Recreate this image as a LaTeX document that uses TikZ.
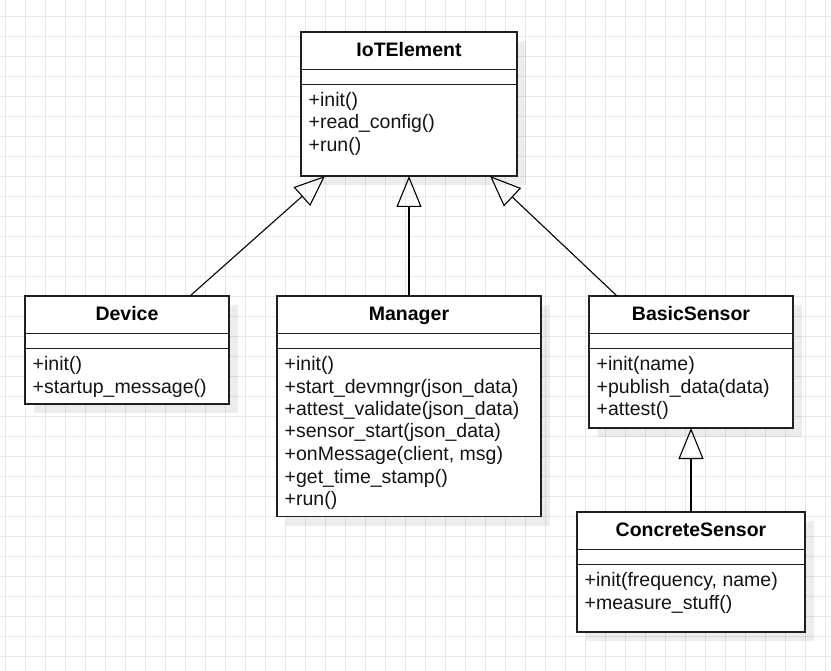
\documentclass[tikz,border=0pt]{standalone}
\usepackage{fontspec}
\setmainfont{Liberation Sans}
\usetikzlibrary{arrows.meta,calc}

\tikzset{
  classframe/.style={draw=black!88, line width=1.3pt, fill=white, inner sep=0pt, outer sep=0pt, anchor=north west},
  classshadow/.style={fill=black, opacity=0.07},
  divider/.style={draw=black!88, line width=1.3pt},
  classtitle/.style={font=\fontsize{19.5}{22}\selectfont\bfseries, text=black, inner sep=0pt, anchor=base},
  member/.style={font=\fontsize{19.5}{22}\selectfont, text=black!92, inner sep=0pt, anchor=base west},
  inherit/.style={draw=black, line width=1.1pt, -{Triangle[open, length=31pt, width=25pt]}},
  gridline/.style={draw=black!9, line width=0.7pt},
}

% UML class box: name, left, top, right, bottom, title, member list
\newcommand\umlclass[7]{%
  \fill[classshadow] (#2+9,#3+9) rectangle (#4+9,#5+9);
  \node[classframe, minimum width={#4pt-#2pt}, minimum height={#5pt-#3pt}] (#1) at (#2,#3) {};
  \draw[divider] ($(#1.north west)+(0,37.5)$) -- ($(#1.north east)+(0,37.5)$);
  \draw[divider] ($(#1.north west)+(0,52.5)$) -- ($(#1.north east)+(0,52.5)$);
  \node[classtitle] (#1-title) at ($(#1.north)+(0,24.5)$) {#6};
  \foreach \m [count=\i] in {#7}
    \node[member] (#1-m\i) at ($(#1.north west)+(7.5,{52.5+22+(\i-1)*22.5})$) {\m};
}

\begin{document}
\begin{tikzpicture}[x=1pt, y=-1pt]
  \useasboundingbox (0,0) rectangle (831,671);
  \fill[white] (0,0) rectangle (831,671);

  % background grid
  \foreach \x in {5,25,...,825} \draw[gridline] (\x,0) -- (\x,671);
  \foreach \y in {16,36,...,656} \draw[gridline] (0,\y) -- (831,\y);

  % classes
  \umlclass{iot}{301}{32}{517}{176}{IoTElement}{+init(), +read\_config(), +run()}
  \umlclass{device}{25}{296}{229}{404}{Device}{+init(), +startup\_message()}
  \umlclass{manager}{277}{296}{541}{516.5}{Manager}{+init(), +start\_devmngr(json\_data), +attest\_validate(json\_data), +sensor\_start(json\_data), {+onMessage(client, msg)}, +get\_time\_stamp(), +run()}
  \umlclass{basic}{589}{296}{793}{428}{BasicSensor}{+init(name), +publish\_data(data), +attest()}
  \umlclass{concrete}{577}{512}{805}{632}{ConcreteSensor}{{+init(frequency, name)}, +measure\_stuff()}

  % inheritance connectors
  \coordinate (devtop) at ($(device.north west)+(165,0)$);
  \coordinate (iotleft) at ($(iot.south west)+(24,0)$);
  \coordinate (basictop) at ($(basic.north west)+(28,0)$);
  \coordinate (iotright) at ($(iot.south east)+(-27,0)$);
  \draw[inherit] (devtop) -- (iotleft);
  \draw[inherit] (manager.north) -- (iot.south);
  \draw[inherit] (basictop) -- (iotright);
  \draw[inherit] (concrete.north) -- (basic.south);
\end{tikzpicture}
\end{document}
